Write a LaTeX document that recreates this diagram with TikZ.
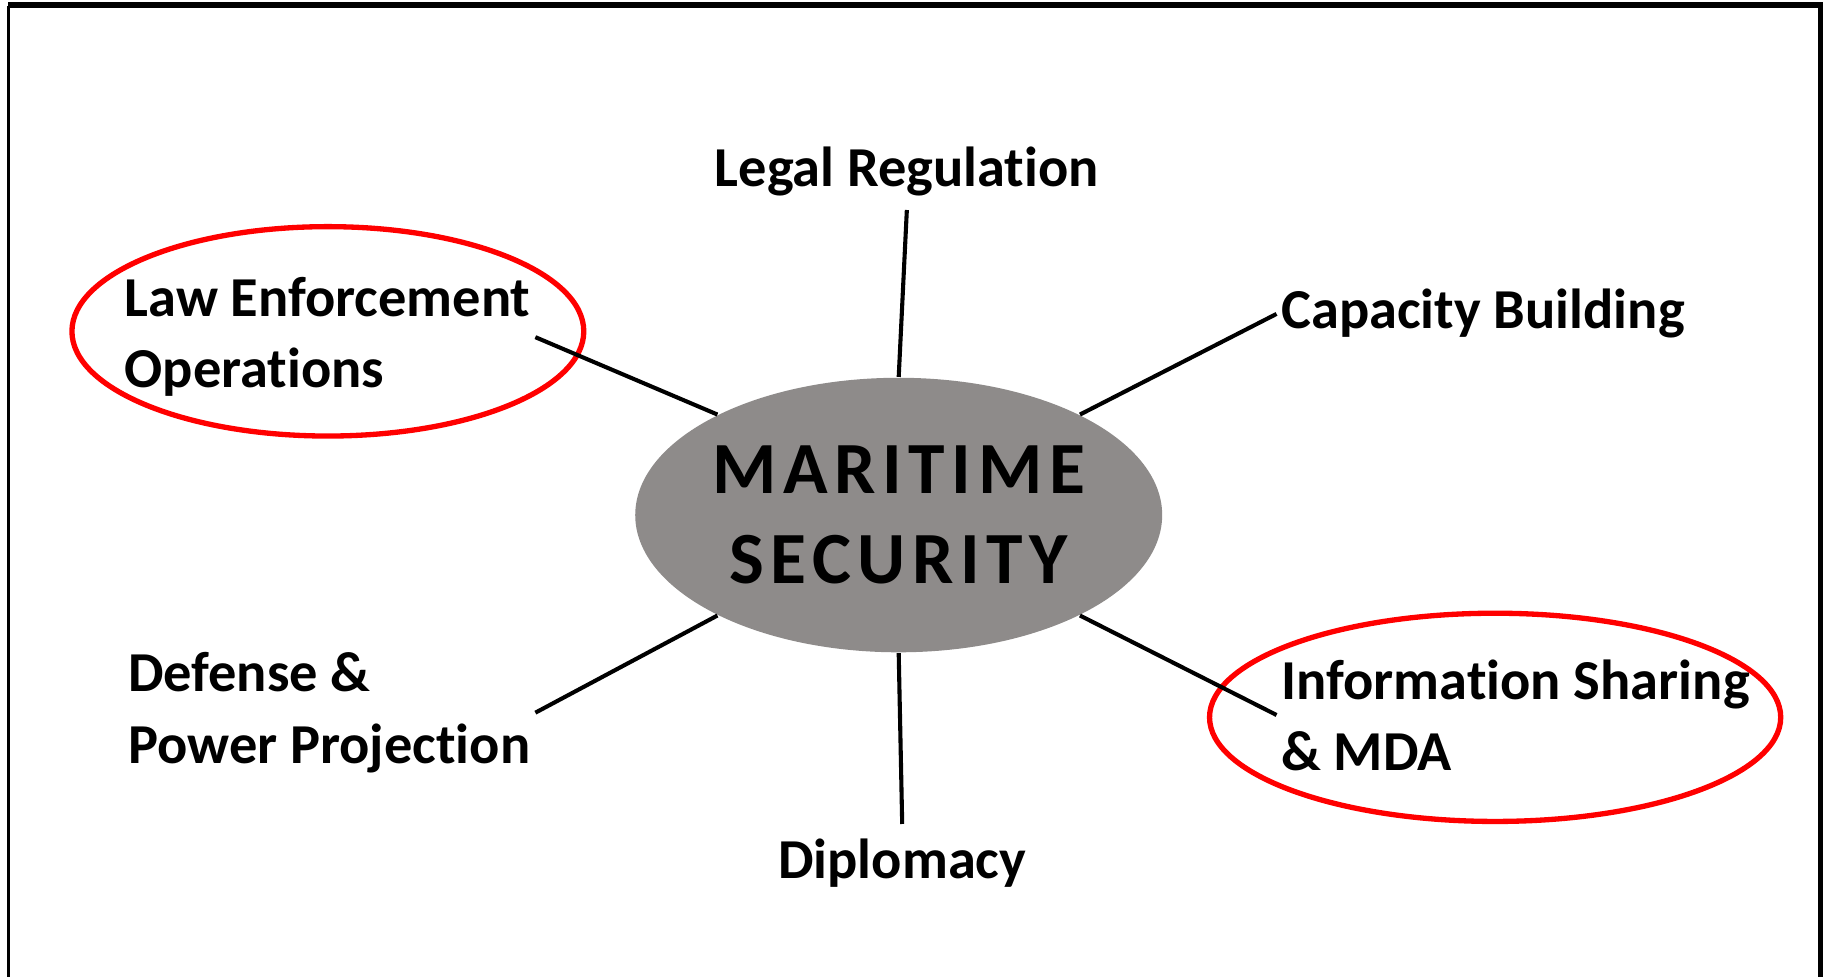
\documentclass[tikz,border=0pt]{standalone}
\usepackage{fontspec}
\setmainfont[Ligatures=NoCommon]{Carlito}
\newfontfamily\hubfont[LetterSpace=9]{Carlito}
\usetikzlibrary{shapes.geometric}
\definecolor{hubgray}{RGB}{142,139,138}
\tikzstyle{hub} = [ellipse, minimum width=4.46cm, minimum height=2.36cm,
    inner sep=0pt, fill=hubgray, align=center,
    font=\hubfont\bfseries\fontsize{18}{22}\selectfont]
\tikzstyle{topic} = [align=left, inner xsep=1pt,
    font=\bfseries\fontsize{13.8}{17.4}\selectfont]
\tikzstyle{ring} = [ellipse, draw=red, line width=1.3pt, inner sep=0pt]
\tikzstyle{spoke} = [line width=1pt]

\begin{document}
\begin{tikzpicture}[x=0.01cm, y=-0.01cm]
            \useasboundingbox (0,0) rectangle (1568,840);
            \draw [line width=0.8pt] (7,840) -- (7,5);
            \draw [line width=1.4pt] (7,4.5) -- (1566,4.5) -- (1566,840);

            \node (lawring) [ring, minimum width=4.40cm, minimum height=1.80cm] at (282,285) {};
            \node (inforing) [ring, minimum width=4.91cm, minimum height=1.79cm] at (1286,617) {};

            \node (hub) [hub] at (773,443) {MARITIME\\SECURITY};
            \node (legal) [topic, anchor=base] at (780,160) {Legal Regulation};
            \node (capacity) [topic, anchor=west] at (1098,270) {Capacity Building};
            \node (lawenf) [topic, anchor=west] at (103,290) {Law Enforcement\\Operations};
            \node (defense) [topic, anchor=west] at (106,613) {Defense \&\\Power Projection};
            \node (infoshare) [topic, anchor=west] at (1098,615) {Information Sharing\\\& MDA};
            \node (diplomacy) [topic] at (776,742) {Diplomacy};

            \draw [spoke] (hub.north) -- (legal.south);
            \draw [spoke] (hub.29) -- (capacity.west);
            \draw [spoke] (hub.151) -- (lawenf.east);
            \draw [spoke] (hub.209) -- (defense.east);
            \draw [spoke] (hub.331) -- (infoshare.west);
            \draw [spoke] (hub.south) -- (diplomacy.north);
        \end{tikzpicture}
\end{document}
